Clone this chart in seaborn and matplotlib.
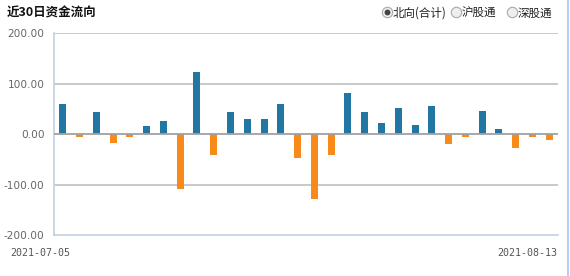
import matplotlib
matplotlib.use("Agg")
import matplotlib.pyplot as plt
import seaborn as sns
import pandas as pd
from matplotlib.lines import Line2D

dates = ["2021-07-05", "2021-07-06", "2021-07-07", "2021-07-08", "2021-07-09",
         "2021-07-12", "2021-07-13", "2021-07-14", "2021-07-15", "2021-07-16",
         "2021-07-19", "2021-07-20", "2021-07-21", "2021-07-22", "2021-07-23",
         "2021-07-26", "2021-07-27", "2021-07-28", "2021-07-29", "2021-07-30",
         "2021-08-02", "2021-08-03", "2021-08-04", "2021-08-05", "2021-08-06",
         "2021-08-09", "2021-08-10", "2021-08-11", "2021-08-12", "2021-08-13"]
values = [59, -5, 43, -18, -5, 16, 26, -108, 124, -41,
          43, 31, 31, 59, -47, -128, -41, 81, 43, 22,
          51, 18, 55, -20, -5, 45, 10, -28, -5, -12]
yticks = [-200, -100, 0, 100, 200]
title = "近30日资金流向"
radio_labels = ["北向(合计)", "沪股通", "深股通"]

sns.set_theme(style="white")
plt.rcParams['font.family'] = ['Noto Sans CJK SC', 'DejaVu Sans']

BLUE, ORANGE = "#2277a2", "#f78a1b"
df = pd.DataFrame({"date": dates, "value": values})
colors = [BLUE if v >= 0 else ORANGE for v in values]

fig = plt.figure(figsize=(5.7, 2.76), dpi=100)
ax = fig.add_axes([54.3 / 570, 1 - 235 / 276, (557.7 - 54.3) / 570, (235 - 33.3) / 276])

sns.barplot(data=df, x="date", y="value", hue="date", palette=colors,
            width=0.42, legend=False, ax=ax, saturation=1, linewidth=0,
            edgecolor="none")

ax.set_xlim(-0.5, len(dates) - 0.5)
ax.set_ylim(-200, 200)
ax.set_yticks(yticks)
ax.set_yticklabels([f"{t:.2f}" for t in yticks], fontsize=7.6, color="#666666",
                   family="DejaVu Sans")
for t in [-100, 100, 200]:
    ax.axhline(t, color="#c0c0c0", lw=1.2, zorder=0)
ax.axhline(0, color="#a0a0a0", lw=1.3, zorder=3)

ax.set_xticks([0.45, len(dates) - 0.5])
ax.set_xticklabels([dates[0], dates[-1]], fontsize=7.2, color="#555555",
                   family="DejaVu Sans Mono")
for lab in ax.get_xticklabels():
    lab.set_ha("right")
ax.tick_params(axis="x", length=5, color="#c0d0e0", pad=4, width=1)
ax.tick_params(axis="y", length=0, pad=7)
ax.set_xlabel("")
ax.set_ylabel("")

for s in ["top", "right"]:
    ax.spines[s].set_visible(False)
for s in ["left", "bottom"]:
    ax.spines[s].set_color("#c0d0e0")
    ax.spines[s].set_linewidth(1.2)

fig.text(7 / 570, 1 - 13 / 276, title, fontsize=9, fontweight="bold",
         color="#111111", va="center", ha="left")

circ_x = [386.7, 456.0, 511.7]
for i, (cx, lab) in enumerate(zip(circ_x, radio_labels)):
    cy = 12
    fig.add_artist(Line2D([cx / 570], [1 - cy / 276], marker="o", markersize=7.5,
                          markerfacecolor="#eeeeee", markeredgecolor="#aaaaaa",
                          markeredgewidth=0.8, transform=fig.transFigure))
    if i == 0:
        fig.add_artist(Line2D([cx / 570], [1 - cy / 276], marker="o", markersize=3.2,
                              markerfacecolor="#444444", markeredgecolor="#444444",
                              transform=fig.transFigure))
    fig.text((cx + 6) / 570, 1 - (cy + 1) / 276, lab, fontsize=8.3, color="#222222",
             va="center", ha="left")

fig.add_artist(Line2D([568 / 570, 568 / 570], [0, 1], color="#a8c4f0", lw=1.2,
                      transform=fig.transFigure))

fig.savefig("out.png", dpi=100)
